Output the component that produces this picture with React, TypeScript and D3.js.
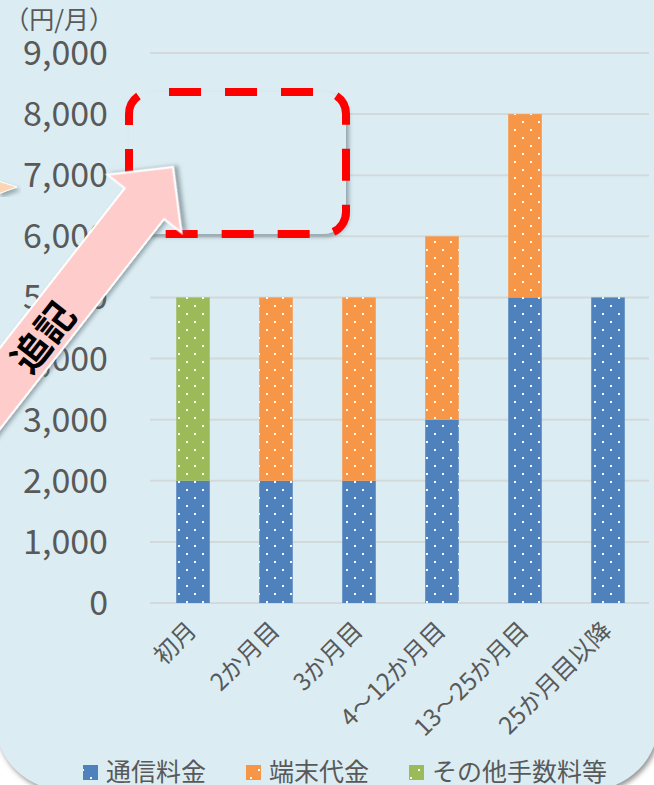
import React from "react";
import * as d3 from "d3";

const categories = ["初月", "2か月目", "3か月目", "4～12か月目", "13～25か月目", "25か月目以降"];
const seriesNames = ["通信料金", "端末代金", "その他手数料等"];
const tsushin = [2000, 2000, 2000, 3000, 5000, 5000];
const tanmatsu = [0, 3000, 3000, 3000, 3000, 0];
const sonota = [3000, 0, 0, 0, 0, 0];
const seriesColors = ["#4f81bd", "#f79646", "#9bbb59"];
const yTicks = [0, 1000, 2000, 3000, 4000, 5000, 6000, 7000, 8000, 9000];
const unitLabel = "（円/月）";
const noteText = "追記";

const W = 654;
const H = 785;
const BG = "#dbedf3";
const TXT = "#595959";
const FONT = "'Noto Sans CJK JP', 'Noto Sans', sans-serif";

export default function App() {
  const x = d3.scaleBand<string>().domain(categories).range([151.5, 649.5]).paddingInner(0.596).paddingOuter(0.298);
  const y = d3.scaleLinear().domain([0, 9000]).range([603, 53]);

  const rows = categories.map((c, i) => ({
    cat: c,
    [seriesNames[0]]: tsushin[i],
    [seriesNames[1]]: tanmatsu[i],
    [seriesNames[2]]: sonota[i],
  }));
  const stacked = d3.stack<any>().keys(seriesNames)(rows);
  const fmt = d3.format(",");

  // arrow geometry (local coords: x along arrow axis, tip at origin)
  const arrowPts: [number, number][] = [
    [0, 0],
    [-46.5, 47],
    [-46.5, 25],
    [-700, 25],
    [-700, -25],
    [-46.5, -25],
    [-46.5, -47],
  ];
  const arrowPath = d3.line()(arrowPts) + "Z";

  const legendX = [83, 246, 409];

  return (
    <svg width={W} height={H} style={{ position: "absolute", left: 0, top: 0, display: "block" }} fontFamily={FONT}>
      <defs>
        {seriesColors.map((c, i) => (
          <pattern key={i} id={`dots${i}`} patternUnits="userSpaceOnUse" width={16} height={16}>
            <rect width={16} height={16} fill={c} />
            <rect x={2} y={1} width={2} height={2} fill="#ffffff" />
            <rect x={10} y={9} width={2} height={2} fill="#ffffff" />
          </pattern>
        ))}
        <filter id="bgShadow" x="-10%" y="-10%" width="120%" height="120%">
          <feDropShadow dx={2} dy={3} stdDeviation={2.5} floodColor="#7a7a7a" floodOpacity={0.8} />
        </filter>
        <filter id="shapeShadow" x="-20%" y="-20%" width="140%" height="140%">
          <feDropShadow dx={3} dy={3} stdDeviation={2} floodColor="#5a6a70" floodOpacity={0.55} />
        </filter>
      </defs>

      <rect x={0} y={0} width={W} height={H} fill="#ffffff" />
      <rect x={-5} y={-100} width={664} height={890} rx={70} ry={70} fill={BG} filter="url(#bgShadow)" />

      {/* gridlines */}
      {yTicks.map((t) => (
        <line key={t} x1={150} x2={649} y1={y(t)} y2={y(t)} stroke="#d3d8da" strokeWidth={2} />
      ))}

      {/* y tick labels */}
      {yTicks.map((t) => (
        <text key={t} x={108} y={y(t) + 12} textAnchor="end" fontSize={34} fill={TXT}>
          {fmt(t)}
        </text>
      ))}
      <text x={114} y={29} textAnchor="end" fontSize={25} fill={TXT}>
        {unitLabel}
      </text>

      {/* bars */}
      {stacked.map((s, si) => (
        <g key={si} fill={`url(#dots${si})`}>
          {s.map((d, i) =>
            d[1] - d[0] > 0 ? (
              <rect
                key={i}
                x={x(categories[i])}
                width={x.bandwidth()}
                y={y(d[1])}
                height={y(d[0]) - y(d[1])}
              />
            ) : null
          )}
        </g>
      ))}

      {/* x labels */}
      {categories.map((c) => (
        <text
          key={c}
          transform={`translate(${(x(c) as number) + x.bandwidth() / 2 + 5},632) rotate(-45)`}
          textAnchor="end"
          fontSize={24}
          fill={TXT}
        >
          {c}
        </text>
      ))}

      {/* legend */}
      {seriesNames.map((n, i) => (
        <g key={n}>
          <rect x={legendX[i]} y={765} width={15} height={15} fill={`url(#dots${i})`} />
          <text x={legendX[i] + 23} y={781} fontSize={25} fill={TXT}>
            {n}
          </text>
        </g>
      ))}

      {/* dashed callout box */}
      <g filter="url(#shapeShadow)">
        <rect x={129} y={92} width={217} height={142} rx={22} ry={22} fill={BG} />
      </g>
      <rect x={129} y={92} width={217} height={142} rx={22} ry={22} fill="none" stroke="#ff0000" strokeWidth={8} strokeDasharray="32 24" strokeDashoffset={-18} />

      {/* small peach arrow tip at left */}
      <path d="M-2,181 L17,187 L-2,194 Z" fill="#fcd5b4" stroke="#ffffff" strokeWidth={1} filter="url(#shapeShadow)" />

      {/* pink arrow */}
      <g transform="translate(173,167) rotate(-52)">
        <path d={arrowPath} fill="#ffcccc" stroke="#ffffff" strokeWidth={2} strokeLinejoin="miter" filter="url(#shapeShadow)" />
        <text x={-214} y={0} textAnchor="middle" dominantBaseline="central" fontSize={38} fontWeight="bold" fill="#000000">
          {noteText}
        </text>
      </g>
    </svg>
  );
}
